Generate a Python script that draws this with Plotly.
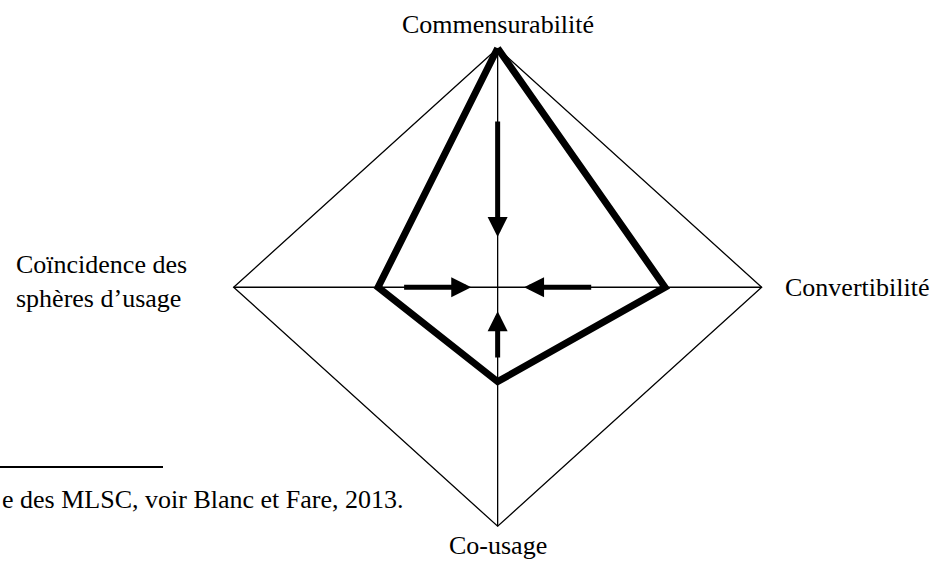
"""Diamond profile chart: four dimensions of a monetary system, with inward arrows."""

import math
import plotly.graph_objects as go

# Axes, clockwise from the top
dimensions = ["Commensurabilité", "Convertibilité", "Co-usage", "Coïncidence des<br>sphères d’usage"]
scale_max = [1.0, 1.0, 1.0, 1.0]
profile = [1.0, 0.634, 0.395, 0.453]
arrow_from = [0.70, 0.36, 0.30, 0.36]
arrow_to = [0.21, 0.10, 0.10, 0.10]
footnote = "e des MLSC, voir Blanc et Fare, 2013."

ANGLES = [90, 0, 270, 180]  # direction of each axis, degrees
FONT = "Liberation Serif"


def to_xy(values):
    xs = [v * math.cos(math.radians(a)) for v, a in zip(values, ANGLES)]
    ys = [v * math.sin(math.radians(a)) for v, a in zip(values, ANGLES)]
    return xs, ys


fig = go.Figure()

# outer diamond
ox, oy = to_xy(scale_max)
fig.add_trace(go.Scatter(
    x=ox + ox[:1], y=oy + oy[:1], mode="lines",
    line=dict(color="black", width=1.3), hoverinfo="skip",
))

# the two axes through the centre
for i in range(2):
    fig.add_trace(go.Scatter(
        x=[ox[i], ox[i + 2]], y=[oy[i], oy[i + 2]], mode="lines",
        line=dict(color="black", width=1.3), hoverinfo="skip",
    ))

# thick profile
px_, py_ = to_xy(profile)
fig.add_trace(go.Scatter(
    x=px_ + px_[:1], y=py_ + py_[:1], mode="lines",
    line=dict(color="black", width=7), hoverinfo="skip",
))

# inward arrows
fx, fy = to_xy(arrow_from)
tx, ty = to_xy(arrow_to)
for x0, y0, x1, y1 in zip(fx, fy, tx, ty):
    fig.add_annotation(
        x=x1, y=y1, ax=x0, ay=y0, xref="x", yref="y", axref="x", ayref="y",
        text="", showarrow=True, arrowhead=2, arrowsize=0.8, arrowwidth=5,
        arrowcolor="black", standoff=0,
    )

# axis labels
label_pos = [
    dict(x=0, y=1.100, xanchor="center", yanchor="middle"),
    dict(x=1.08, y=-0.003, xanchor="left", yanchor="middle"),
    dict(x=0, y=-1.079, xanchor="center", yanchor="middle"),
    dict(x=-1.832, y=0.024, xanchor="left", yanchor="middle"),
]
for text, pos in zip(dimensions, label_pos):
    fig.add_annotation(
        text=text, showarrow=False, align="left", xref="x", yref="y",
        font=dict(family=FONT, size=26, color="black"), **pos,
    )

# footnote fragment from the page
fig.add_annotation(
    text=footnote, showarrow=False, xref="paper", yref="paper",
    x=406 / 933, y=1 - 499 / 564, xanchor="right", yanchor="middle",
    font=dict(family=FONT, size=26, color="black"),
)
fig.add_shape(
    type="line", xref="paper", yref="paper",
    x0=0, x1=163 / 933, y0=1 - 467 / 564, y1=1 - 467 / 564,
    line=dict(color="black", width=2),
)

fig.update_layout(
    width=933, height=564,
    margin=dict(l=0, r=0, t=0, b=0),
    paper_bgcolor="white", plot_bgcolor="white",
    showlegend=False,
    font=dict(family=FONT),
    xaxis=dict(range=[-1.885, 1.649], visible=False, fixedrange=True),
    yaxis=dict(range=[-1.158, 1.202], visible=False, fixedrange=True),
)

fig.write_html(
    "out.html",
    config={"displayModeBar": False},
    post_script="document.body.style.margin = '0';",
)
